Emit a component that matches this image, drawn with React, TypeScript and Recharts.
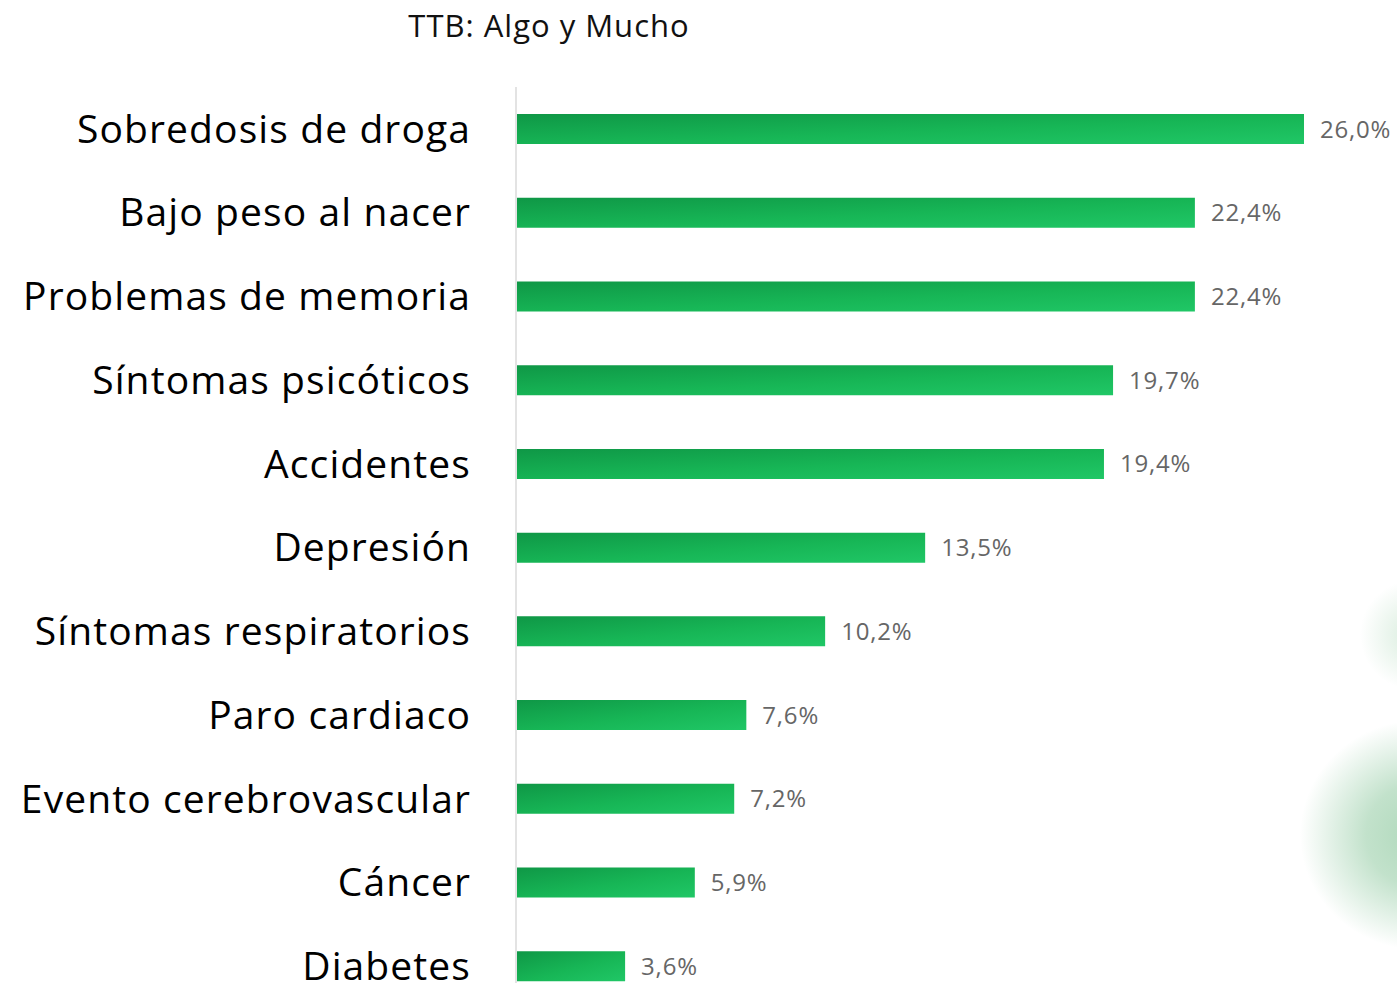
import React from "react";
import { Bar, BarChart, LabelList, XAxis, YAxis } from "recharts";

// Datos (TTB: Algo y Mucho)
const categories = [
  "Sobredosis de droga",
  "Bajo peso al nacer",
  "Problemas de memoria",
  "Síntomas psicóticos",
  "Accidentes",
  "Depresión",
  "Síntomas respiratorios",
  "Paro cardiaco",
  "Evento cerebrovascular",
  "Cáncer",
  "Diabetes",
];

const values = [26.0, 22.4, 22.4, 19.7, 19.4, 13.5, 10.2, 7.6, 7.2, 5.9, 3.6];

const TITLE = "TTB: Algo y Mucho";

const data = categories.map((name, i) => ({ name, value: values[i] }));

const FONT = "'Open Sans', 'Noto Sans', sans-serif";

function formatPct(v: number): string {
  return `${v.toFixed(1).replace(".", ",")}%`;
}

export default function App() {
  return (
    <div
      style={{
        position: "absolute",
        top: 0,
        left: 0,
        width: 1397,
        height: 983,
        overflow: "hidden",
        background: "#ffffff",
        fontFamily: FONT,
      }}
    >
      {/* manchas verdes difuminadas del fondo */}
      <div
        style={{
          position: "absolute",
          left: 1300,
          top: 720,
          width: 240,
          height: 230,
          borderRadius: "50%",
          background:
            "radial-gradient(closest-side, rgba(120,190,140,0.6) 0%, rgba(120,190,140,0.45) 45%, rgba(120,190,140,0) 100%)",
        }}
      />
      <div
        style={{
          position: "absolute",
          left: 1360,
          top: 580,
          width: 110,
          height: 110,
          borderRadius: "50%",
          background:
            "radial-gradient(closest-side, rgba(140,200,155,0.35) 0%, rgba(140,200,155,0) 100%)",
        }}
      />
      <div
        style={{
          position: "absolute",
          left: 0,
          width: 1098,
          top: 4,
          textAlign: "center",
          fontSize: 31,
          lineHeight: "42px",
          letterSpacing: 1,
          color: "#111",
        }}
      >
        {TITLE}
      </div>
      <BarChart
        width={1397}
        height={1010}
        data={data}
        layout="vertical"
        margin={{ top: 87, right: 93, left: 0, bottom: 2 }}
        barSize={30}
        style={{ position: "absolute", top: 0, left: 0 }}
      >
        <defs>
          <linearGradient id="barGrad" x1="0" y1="0" x2="1" y2="1">
            <stop offset="0%" stopColor="#0f9746" />
            <stop offset="55%" stopColor="#17b656" />
            <stop offset="100%" stopColor="#20c766" />
          </linearGradient>
        </defs>
        <XAxis type="number" domain={[0, 26]} hide />
        <YAxis
          type="category"
          dataKey="name"
          width={516}
          tickLine={false}
          tickSize={0}
          tickMargin={45}
          axisLine={{ stroke: "#e3e3e3", strokeWidth: 2 }}
          tick={{ fontSize: 39, fill: "#000", fontFamily: FONT, letterSpacing: 1.1 }}
          interval={0}
        />
        <Bar dataKey="value" fill="url(#barGrad)" isAnimationActive={false}>
          <LabelList
            dataKey="value"
            position="right"
            offset={16}
            formatter={(v: number) => formatPct(v)}
            style={{ fontSize: 24, fill: "#666666", fontFamily: FONT, letterSpacing: 0.8 }}
          />
        </Bar>
      </BarChart>
    </div>
  );
}
